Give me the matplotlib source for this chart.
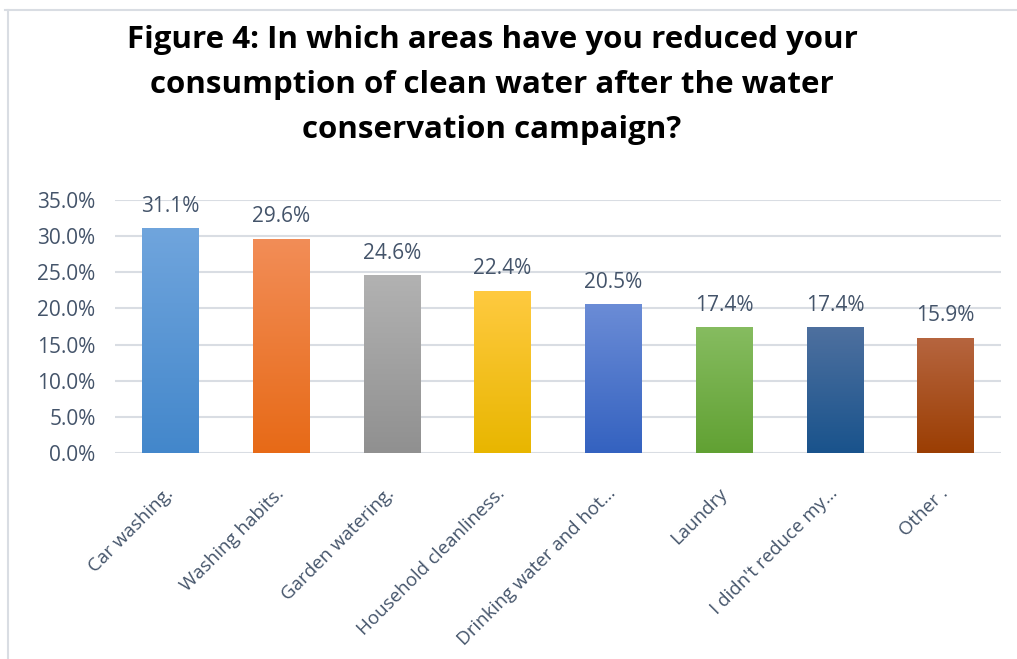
import numpy as np
import matplotlib
matplotlib.use("Agg")
import matplotlib.pyplot as plt
from matplotlib.colors import LinearSegmentedColormap
from matplotlib.lines import Line2D

# --- data ---
categories = [
    "Car washing.",
    "Washing habits.",
    "Garden watering.",
    "Household cleanliness.",
    "Drinking water and hot\u2026",
    "Laundry",
    "I didn't reduce my\u2026",
    "Other .",
]
values = [31.1, 29.6, 24.6, 22.4, 20.5, 17.4, 17.4, 15.9]
title_lines = [
    "Figure 4: In which areas have you reduced your",
    "consumption of clean water after the water",
    "conservation campaign?",
]

# gradient colours (top, bottom) for each bar
bar_colors = [
    ("#70a5dd", "#4387cb"),
    ("#f28d57", "#e76a17"),
    ("#b2b2b2", "#909090"),
    ("#ffca40", "#e8b600"),
    ("#6b8cd6", "#3462c0"),
    ("#86bc60", "#61a133"),
    ("#4e709f", "#19538c"),
    ("#b6653f", "#9b3e03"),
]

text_color = "#44546A"
grid_color = "#D9DDE3"

plt.rcParams["font.family"] = ["Open Sans", "DejaVu Sans"]

W, H = 1017, 659
fig = plt.figure(figsize=(W / 100, H / 100), dpi=100)
ax = fig.add_axes([115 / W, 1 - 453 / H, (1001 - 115) / W, (453 - 200) / H])

x = np.arange(len(categories))
bw = 0.51

# invisible bars to keep the scale, gradient drawn on top
bars = ax.bar(x, values, width=bw, color="none", zorder=3)
grad = np.linspace(1, 0, 256).reshape(-1, 1)
for rect, (top, bot) in zip(bars, bar_colors):
    cmap = LinearSegmentedColormap.from_list("g", [bot, top])
    x0 = rect.get_x()
    ax.imshow(grad, cmap=cmap, aspect="auto", zorder=3,
              extent=(x0, x0 + rect.get_width(), 0, rect.get_height()))

for xi, v in zip(x, values):
    ax.annotate(f"{v:.1f}%", (xi, v), xytext=(0, 12), textcoords="offset points",
                ha="center", va="baseline", fontsize=15, color=text_color)

ax.set_xlim(-0.5, len(categories) - 0.5)
ax.set_ylim(0, 35)
ax.set_yticks(np.arange(0, 36, 5))
ax.set_yticklabels([f"{t:.1f}%" for t in np.arange(0, 36, 5)])
ax.grid(axis="y", color=grid_color, lw=1.5, zorder=0)
ax.set_axisbelow(True)
for s in ax.spines.values():
    s.set_visible(False)

ax.set_xticks(x)
ax.set_xticklabels(categories, rotation=45, ha="right", va="center",
                   rotation_mode="anchor", fontsize=13.5, color=text_color)
ax.tick_params(axis="x", length=0, pad=27)
ax.tick_params(axis="y", length=0, pad=14, labelsize=15, labelcolor=text_color)

# title, line by line
for i, line in enumerate(title_lines):
    fig.text(492 / W, 1 - (40 + 45 * i) / H, line, ha="center", va="center",
             fontsize=22.5, fontweight="bold", color="black")

# chart area border (left and top edges visible)
fig.add_artist(Line2D([8 / W, 8 / W], [0, 1 - 10 / H], transform=fig.transFigure,
                      color=grid_color, lw=1.5))
fig.add_artist(Line2D([5 / W, 1], [1 - 10 / H, 1 - 10 / H], transform=fig.transFigure,
                      color=grid_color, lw=1.5))

fig.savefig("out.png", dpi=100)
